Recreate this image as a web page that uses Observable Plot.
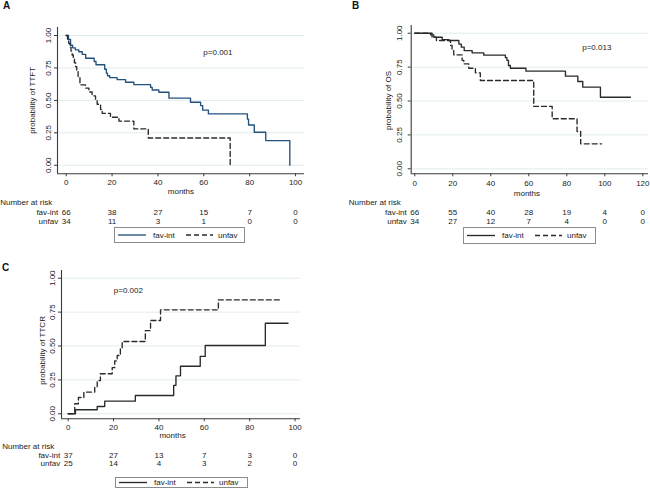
<!DOCTYPE html>
<html><head><meta charset="utf-8">
<script src="https://cdn.jsdelivr.net/npm/d3@7"></script>
<script src="https://cdn.jsdelivr.net/npm/@observablehq/plot@0.6"></script>
<style>
body{margin:0;background:#fff;font-family:"Liberation Sans",Arial,sans-serif;}
#wrap{position:relative;width:650px;height:488px;overflow:hidden;background:#fff;}
.plab{position:absolute;font-weight:bold;font-size:10px;line-height:12px;color:#111;}
.abs{position:absolute;}
</style></head><body><div id="wrap"></div>
<script>
// ---------- Data ----------
const yTicks = [0, 0.25, 0.5, 0.75, 1];

// Panel A (TTFT)
const A_ticks = [0, 20, 40, 60, 80, 100];
const A_riskFav = [66, 38, 27, 15, 7, 0];
const A_riskUnf = [34, 11, 3, 1, 0, 0];
const A_favT = [0, 1.0, 1.9, 2.8, 4.0, 5.5, 7.0, 8.5, 12.2, 13.0, 16.8, 17.5, 18.0, 19.0, 22.2, 25.9, 29.5, 36.8, 37.5, 40.4, 44.8, 54.2, 58.6, 59.5, 62.0, 79.0, 79.5, 82.0, 87.0, 97.5];
const A_favS = [1, 0.97, 0.925, 0.905, 0.89, 0.875, 0.855, 0.825, 0.80, 0.775, 0.74, 0.71, 0.69, 0.675, 0.66, 0.64, 0.622, 0.60, 0.58, 0.563, 0.517, 0.486, 0.46, 0.425, 0.396, 0.355, 0.31, 0.254, 0.19, 0];
const A_unfT = [0, 0.6, 1.1, 1.6, 2.1, 2.6, 3.1, 3.6, 4.1, 4.6, 5.2, 6.0, 8.4, 9.9, 11.3, 12.8, 13.5, 15.0, 15.7, 19.3, 23.0, 29.5, 35.8, 71.5];
const A_unfS = [1, 0.97, 0.94, 0.91, 0.88, 0.85, 0.82, 0.79, 0.76, 0.73, 0.68, 0.62, 0.595, 0.565, 0.535, 0.50, 0.47, 0.43, 0.40, 0.37, 0.34, 0.28, 0.21, 0];

// Panel B (OS)
const B_ticks = [0, 20, 40, 60, 80, 100, 120];
const B_riskFav = [66, 55, 40, 28, 19, 4, 0];
const B_riskUnf = [34, 27, 12, 7, 4, 0, 0];
const B_favT = [0, 8.3, 10.0, 14.4, 17.9, 23.2, 24.5, 26.0, 30.2, 36.3, 47.7, 48.5, 49.3, 50.3, 58.5, 79.3, 85.8, 88.4, 97.7, 113.5];
const B_favS = [1, 0.988, 0.97, 0.953, 0.946, 0.92, 0.897, 0.872, 0.855, 0.838, 0.82, 0.80, 0.762, 0.742, 0.72, 0.683, 0.644, 0.602, 0.528, 0.528];
const B_unfT = [0, 9.1, 11.4, 18.8, 19.6, 20.5, 24.9, 25.8, 28.4, 31.9, 34.5, 62.6, 72.3, 85.4, 87.3, 98.3];
const B_unfS = [1, 0.97, 0.946, 0.91, 0.872, 0.84, 0.80, 0.774, 0.742, 0.708, 0.651, 0.46, 0.369, 0.275, 0.184, 0.184];

// Panel C (TTCR)
const C_ticks = [0, 20, 40, 60, 80, 100];
const C_riskFav = [37, 27, 13, 7, 3, 0];
const C_riskUnf = [25, 14, 4, 3, 2, 0];
const C_favT = [0, 3.2, 12.8, 16.1, 29.6, 46.5, 47.5, 49.5, 58.2, 60.4, 86.9, 96.9];
const C_favS = [0, 0.03, 0.054, 0.093, 0.135, 0.21, 0.28, 0.351, 0.423, 0.504, 0.668, 0.668];
const C_unfT = [0, 2.9, 4.5, 6.9, 11.7, 12.8, 14.2, 19.4, 20.5, 21.6, 23.0, 23.8, 34.0, 36.3, 40.7, 66.2, 93.9];
const C_unfS = [0, 0.074, 0.12, 0.16, 0.20, 0.245, 0.295, 0.34, 0.39, 0.43, 0.48, 0.533, 0.614, 0.688, 0.767, 0.84, 0.84];

const groups = ["fav-int", "unfav"];

// ---------- Drawing ----------
const FONT = "'Liberation Sans', Arial, Helvetica, sans-serif";
const wrap = document.getElementById("wrap");
const toRows = (T, S) => T.map((t, i) => ({t, s: S[i]}));

function makePanel(c) {
  const risk = c.ticks.map((t, i) => ({t, fav: c.riskFav[i], unf: c.riskUnf[i]}));
  const svg = Plot.plot({
    width: c.width, height: c.height,
    marginLeft: c.mL, marginRight: c.mR, marginTop: c.mT, marginBottom: c.mB,
    x: {domain: c.xDomain},
    y: {domain: c.yDomain},
    style: {fontFamily: FONT, fontSize: "8px", color: "#1a1a1a", background: "transparent", overflow: "visible"},
    marks: [
      Plot.gridY(yTicks, {stroke: "#e1ecef", strokeOpacity: 1, strokeWidth: 1}),
      Plot.ruleX([c.xDomain[0]], {stroke: "#3a3a3a", strokeWidth: 1.1}),
      Plot.ruleY([c.yDomain[0]], {stroke: "#3a3a3a", strokeWidth: 1.1}),
      Plot.axisX(c.ticks, {tickSize: 3, tickPadding: c.xPad, label: null, stroke: "#3a3a3a"}),
      Plot.axisY(yTicks, {tickSize: 3, tickPadding: c.yPad, tickRotate: -90, tickFormat: ".2f", label: null, stroke: "#3a3a3a"}),
      Plot.line(toRows(c.favT, c.favS), {x: "t", y: "s", curve: "step-after", stroke: c.favColor, strokeWidth: 1.35}),
      Plot.line(toRows(c.unfT, c.unfS), {x: "t", y: "s", curve: "step-after", stroke: "#2a2a2a", strokeWidth: 1.35, strokeDasharray: "5,3"}),
      Plot.text([c.pText], {x: c.pX, y: c.pY, textAnchor: "start"}),
      Plot.text([c.yLabel], {y: c.yLabelY, frameAnchor: "left", dx: -c.yLabelOff, rotate: -90, textAnchor: "middle", lineAnchor: "middle"}),
      Plot.text(["months"], {x: c.monthsX, frameAnchor: "bottom", dy: c.dyMonths, lineAnchor: "middle"}),
      Plot.text(["Number at risk"], {x: 0, frameAnchor: "bottom", dx: -66, dy: c.dyNar, textAnchor: "start", lineAnchor: "middle"}),
      Plot.text([groups[0]], {x: 0, frameAnchor: "bottom", dx: -8, dy: c.dyFav, textAnchor: "end", lineAnchor: "middle"}),
      Plot.text([groups[1]], {x: 0, frameAnchor: "bottom", dx: -8, dy: c.dyUnf, textAnchor: "end", lineAnchor: "middle"}),
      Plot.text(risk, {x: "t", text: "fav", frameAnchor: "bottom", dy: c.dyFav, lineAnchor: "middle"}),
      Plot.text(risk, {x: "t", text: "unf", frameAnchor: "bottom", dy: c.dyUnf, lineAnchor: "middle"})
    ]
  });
  svg.style.position = "absolute";
  svg.style.left = c.left + "px";
  svg.style.top = c.top + "px";
  wrap.appendChild(svg);

  // legend box
  const lg = d3.select(wrap).append("svg")
    .attr("class", "abs")
    .style("left", c.lgLeft + "px").style("top", c.lgTop + "px")
    .attr("width", c.lgW).attr("height", c.lgH)
    .style("font-family", FONT).style("font-size", "8px");
  lg.append("rect").attr("x", 0.5).attr("y", 0.5).attr("width", c.lgW - 1).attr("height", c.lgH - 1)
    .attr("fill", "#fff").attr("stroke", "#8c8c8c").attr("stroke-width", 1);
  const my = c.lgMid;
  lg.append("line").attr("x1", 4).attr("x2", 32).attr("y1", my).attr("y2", my)
    .attr("stroke", c.favColor).attr("stroke-width", 1.35);
  lg.append("text").attr("x", 39).attr("y", my).attr("dy", "0.32em").attr("fill", "#1a1a1a").text(groups[0]);
  lg.append("line").attr("x1", 72).attr("x2", 99).attr("y1", my).attr("y2", my)
    .attr("stroke", "#2a2a2a").attr("stroke-width", 1.35).attr("stroke-dasharray", "5,3");
  lg.append("text").attr("x", 104).attr("y", my).attr("dy", "0.32em").attr("fill", "#1a1a1a").text(groups[1]);

  // panel letter
  const lab = document.createElement("div");
  lab.className = "plab";
  lab.style.left = c.labX + "px"; lab.style.top = c.labY + "px";
  lab.textContent = c.letter;
  wrap.appendChild(lab);
}

makePanel({
  letter: "A", labX: 3, labY: 0,
  left: 0, top: 0, width: 325, height: 245,
  mL: 57, mR: 21, mT: 27, mB: 71.7,
  xDomain: [-3.79, 103.9], yDomain: [-0.066, 1.062],
  ticks: A_ticks, riskFav: A_riskFav, riskUnf: A_riskUnf,
  favT: A_favT, favS: A_favS, unfT: A_unfT, unfS: A_unfS,
  favColor: "#23507d",
  xPad: 3, yPad: 4,
  pText: "p=0.001", pX: 59.8, pY: 0.87,
  yLabel: "probability of TTFT", yLabelY: 0.5, yLabelOff: 24.7,
  monthsX: 50, dyMonths: 17.7, dyNar: 28.4, dyFav: 38.4, dyUnf: 47.4,
  lgLeft: 114, lgTop: 226.7, lgW: 131, lgH: 16, lgMid: 8
});

makePanel({
  letter: "B", labX: 352, labY: 0,
  left: 325, top: 0, width: 325, height: 245,
  mL: 85.7, mR: 2, mT: 25, mB: 71.7,
  xDomain: [-1.89, 123], yDomain: [-0.037, 1.057],
  ticks: B_ticks, riskFav: B_riskFav, riskUnf: B_riskUnf,
  favT: B_favT, favS: B_favS, unfT: B_unfT, unfS: B_unfS,
  favColor: "#2a2a2a",
  xPad: 4, yPad: 6,
  pText: "p=0.013", pX: 88.1, pY: 0.892,
  yLabel: "probability of OS", yLabelY: 0.504, yLabelOff: 22.4,
  monthsX: 59, dyMonths: 19.4, dyNar: 28.4, dyFav: 38.4, dyUnf: 47.4,
  lgLeft: 462.7, lgTop: 226.7, lgW: 133, lgH: 17, lgMid: 8.5
});

makePanel({
  letter: "C", labX: 2, labY: 262,
  left: 0, top: 245, width: 325, height: 243,
  mL: 61, mR: 25, mT: 25, mB: 69.7,
  xDomain: [-2.95, 102.4], yDomain: [-0.037, 1.057],
  ticks: C_ticks, riskFav: C_riskFav, riskUnf: C_riskUnf,
  favT: C_favT, favS: C_favS, unfT: C_unfT, unfS: C_unfS,
  favColor: "#2a2a2a",
  xPad: 3, yPad: 4,
  pText: "p=0.002", pX: 20.1, pY: 0.909,
  yLabel: "probability of TTCR", yLabelY: 0.467, yLabelOff: 19.3,
  monthsX: 46, dyMonths: 16.7, dyNar: 27.7, dyFav: 36.7, dyUnf: 45,
  lgLeft: 115, lgTop: 477, lgW: 133, lgH: 11, lgMid: 5.5
});
</script></body></html>
